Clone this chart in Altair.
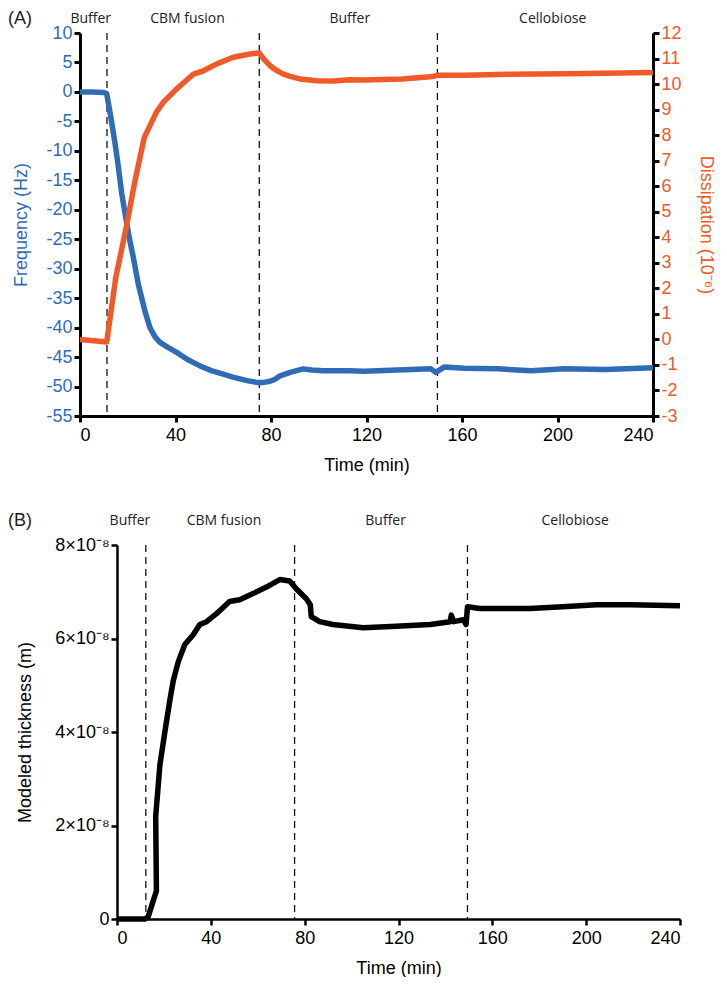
import altair as alt
import pandas as pd

BLUE = "#2f6cb5"
ORANGE = "#f05a28"
AX_FONT = "Liberation Sans"
PH_FONT = "Open Sans"

# ---------------- Panel A data ----------------
freq_t = [0, 5, 10, 11.2, 13, 14.7, 16, 17.5, 19.6, 21, 22.3, 24.4, 27.2, 29.3, 31.5, 33.5,
          37, 40.5, 45, 50.3, 55, 60, 64, 67, 70, 74, 77, 79.6, 81.5, 83.8, 88, 93.5, 97,
          101.9, 113, 119, 133, 147, 149, 152.5, 161, 175, 189, 203, 220, 240]
freq_v = [0, 0, -0.1, -0.3, -4.5, -8.8, -12.5, -17.3, -22.4, -25.5, -28, -32.6, -37.2, -40,
          -41.6, -42.5, -43.4, -44.2, -45.4, -46.5, -47.3, -47.9, -48.4, -48.7, -49.0, -49.3,
          -49.3, -49.1, -48.8, -48.2, -47.6, -47.0, -47.2, -47.3, -47.3, -47.4, -47.2, -47.0,
          -47.6, -46.7, -46.9, -47.0, -47.3, -47.0, -47.1, -46.8]

diss_t = [0, 6, 11.2, 15, 19.6, 22.8, 26.9, 29.3, 32, 34.9, 40.5, 44, 47.5, 51.7, 57.3,
          64.2, 71.2, 75.1, 77, 79.6, 82, 85.2, 88, 92.1, 99.1, 106, 113, 119, 135, 148, 150,
          161, 180, 203, 220, 240]
diss_v = [0, -0.05, -0.1, 2.43, 4.5, 6.1, 7.9, 8.37, 8.9, 9.29, 9.81, 10.1, 10.39, 10.52,
          10.79, 11.05, 11.18, 11.22, 10.98, 10.72, 10.55, 10.39, 10.3, 10.2, 10.13, 10.12,
          10.17, 10.16, 10.2, 10.3, 10.35, 10.35, 10.38, 10.4, 10.42, 10.45]

# ---------------- Panel B data (thickness in units of 1e-8 m) ----------------
thick_t = [0, 6, 11.9, 13.3, 16.8, 16.5, 18.3, 20.4, 22.6, 24, 26.1, 28.9, 32.5, 35.3, 38.2,
           42.4, 48, 52.3, 58, 63.7, 69.4, 73.6, 76.5, 80.7, 82.4, 82.8, 86.4, 92, 105, 119,
           133.5, 142, 142.5, 143.5, 147.7, 148.8, 149.4, 154.7, 176, 190, 204.4, 218.6, 240]
thick_v = [0, 0, 0, 0.05, 0.6, 2.2, 3.3, 4.0, 4.7, 5.1, 5.5, 5.87, 6.08, 6.3, 6.36, 6.53, 6.79,
           6.83, 6.96, 7.1, 7.26, 7.23, 7.06, 6.85, 6.72, 6.47, 6.36, 6.3, 6.23, 6.26, 6.3,
           6.36, 6.5, 6.36, 6.4, 6.3, 6.68, 6.64, 6.64, 6.68, 6.72, 6.72, 6.7]

phase_names = ["Buffer", "CBM fusion", "Buffer", "Cellobiose"]
phase_x_A = [4.5, 45, 113, 198]
phase_x_B = [5.5, 45.6, 114.5, 195.3]
bounds_A = [11.3, 75.1, 149.7]
bounds_B = [12.3, 75.7, 149.4]

x_ticks = [0, 40, 80, 120, 160, 200, 240]
freq_ticks = list(range(-55, 11, 5))
diss_ticks = list(range(-3, 13, 1))
thick_ticks = [0, 2e-8, 4e-8, 6e-8, 8e-8]

df_freq = pd.DataFrame({"t": freq_t, "v": freq_v})
df_diss = pd.DataFrame({"t": diss_t, "v": diss_v})
df_thick = pd.DataFrame({"t": thick_t, "v": [v * 1e-8 for v in thick_v],
                         "i": list(range(len(thick_t)))})
df_phA = pd.DataFrame({"t": phase_x_A, "name": phase_names})
df_phB = pd.DataFrame({"t": phase_x_B, "name": phase_names})
df_bA = pd.DataFrame({"t": bounds_A})
df_bB = pd.DataFrame({"t": bounds_B})

common_axis = dict(grid=False, domainColor="black", tickColor="black", labelFont=AX_FONT,
                   titleFont=AX_FONT, labelFontSize=18, titleFontSize=18,
                   titleFontWeight="normal", tickSize=6)

# panel B is shifted right of panel A by this many pixels
B_SHIFT = 37
B_WIDTH = 563


def x_enc(dw, shift=0):
    scale = alt.Scale(domain=[0, 240], nice=False)
    if shift:
        scale = alt.Scale(domain=[0, 240], nice=False, range=[shift, shift + B_WIDTH])
    return alt.X("t:Q", scale=scale,
                 axis=alt.Axis(values=x_ticks, title="Time (min)", labelColor="black",
                               titleColor="black", domainWidth=dw, tickWidth=dw,
                               labelPadding=4, titlePadding=12, **common_axis))


# ---------------- Panel A ----------------
rulesA = alt.Chart(df_bA).mark_rule(color="#111", strokeWidth=1.3, strokeDash=[7, 5]).encode(
    x=x_enc(3))
freq_line = alt.Chart(df_freq).mark_line(color=BLUE, strokeWidth=5.5, strokeJoin="round").encode(
    x=x_enc(3),
    y=alt.Y("v:Q", scale=alt.Scale(domain=[-55, 10], nice=False),
            axis=alt.Axis(orient="left", values=freq_ticks, title="Frequency (Hz)",
                          labelExpr="datum.value + ''",
                          labelColor=BLUE, titleColor=BLUE, domainWidth=3, tickWidth=3,
                          labelPadding=2, titlePadding=15, **common_axis)))
diss_line = alt.Chart(df_diss).mark_line(color=ORANGE, strokeWidth=5.5, strokeJoin="round").encode(
    x=x_enc(3),
    y=alt.Y("v:Q", scale=alt.Scale(domain=[-3, 12], nice=False),
            axis=alt.Axis(orient="right", values=diss_ticks, title="Dissipation (10⁻⁶)",
                          labelExpr="datum.value + ''",
                          labelColor=ORANGE, titleColor=ORANGE, domainWidth=3, tickWidth=3,
                          labelPadding=2, titlePadding=15, **common_axis)))
phaseA = alt.Chart(df_phA).mark_text(font=PH_FONT, fontSize=14, color="#222",
                                     baseline="alphabetic").encode(
    x=x_enc(3), y=alt.value(-10), text="name:N")
letterA = alt.Chart(pd.DataFrame({"l": ["(A)"]})).mark_text(
    align="left", font=AX_FONT, fontSize=18, color="#222", baseline="alphabetic").encode(
    x=alt.value(-72), y=alt.value(-9), text="l:N")

panelA = alt.layer(rulesA, freq_line, diss_line, phaseA, letterA).resolve_scale(
    y="independent").properties(width=573, height=383)

# ---------------- Panel B ----------------
rulesB = alt.Chart(df_bB).mark_rule(color="#111", strokeWidth=1.3, strokeDash=[7, 5]).encode(
    x=x_enc(2.5, B_SHIFT))
thick_line = alt.Chart(df_thick).mark_line(color="black", strokeWidth=5.5,
                                           strokeJoin="round").encode(
    x=x_enc(2.5, B_SHIFT),
    y=alt.Y("v:Q", scale=alt.Scale(domain=[0, 8e-8], nice=False),
            axis=alt.Axis(values=thick_ticks, title="Modeled thickness (m)", offset=-B_SHIFT,
                          labelExpr="datum.value == 0 ? '0' : round(datum.value * 1e8) + '×10⁻⁸'",
                          labelColor="black", titleColor="black", domainWidth=2.5,
                          tickWidth=2.5, labelPadding=2, titlePadding=20, **common_axis)),
    order="i:Q")
phaseB = alt.Chart(df_phB).mark_text(font=PH_FONT, fontSize=14, color="#222",
                                     baseline="alphabetic").encode(
    x=x_enc(2.5, B_SHIFT), y=alt.value(-20), text="name:N")
letterB = alt.Chart(pd.DataFrame({"l": ["(B)"]})).mark_text(
    align="left", font=AX_FONT, fontSize=18, color="#222", baseline="alphabetic").encode(
    x=alt.value(-72), y=alt.value(-19), text="l:N")

panelB = alt.layer(rulesB, thick_line, phaseB, letterB).properties(
    width=B_SHIFT + B_WIDTH, height=374)

chart = alt.concat(panelA, panelB, columns=1, spacing=38).properties(
    padding={"left": 0, "top": 2, "right": 2, "bottom": 0}
).configure_view(stroke=None)

chart.save("out.html", embed_options={"renderer": "svg", "actions": False})
